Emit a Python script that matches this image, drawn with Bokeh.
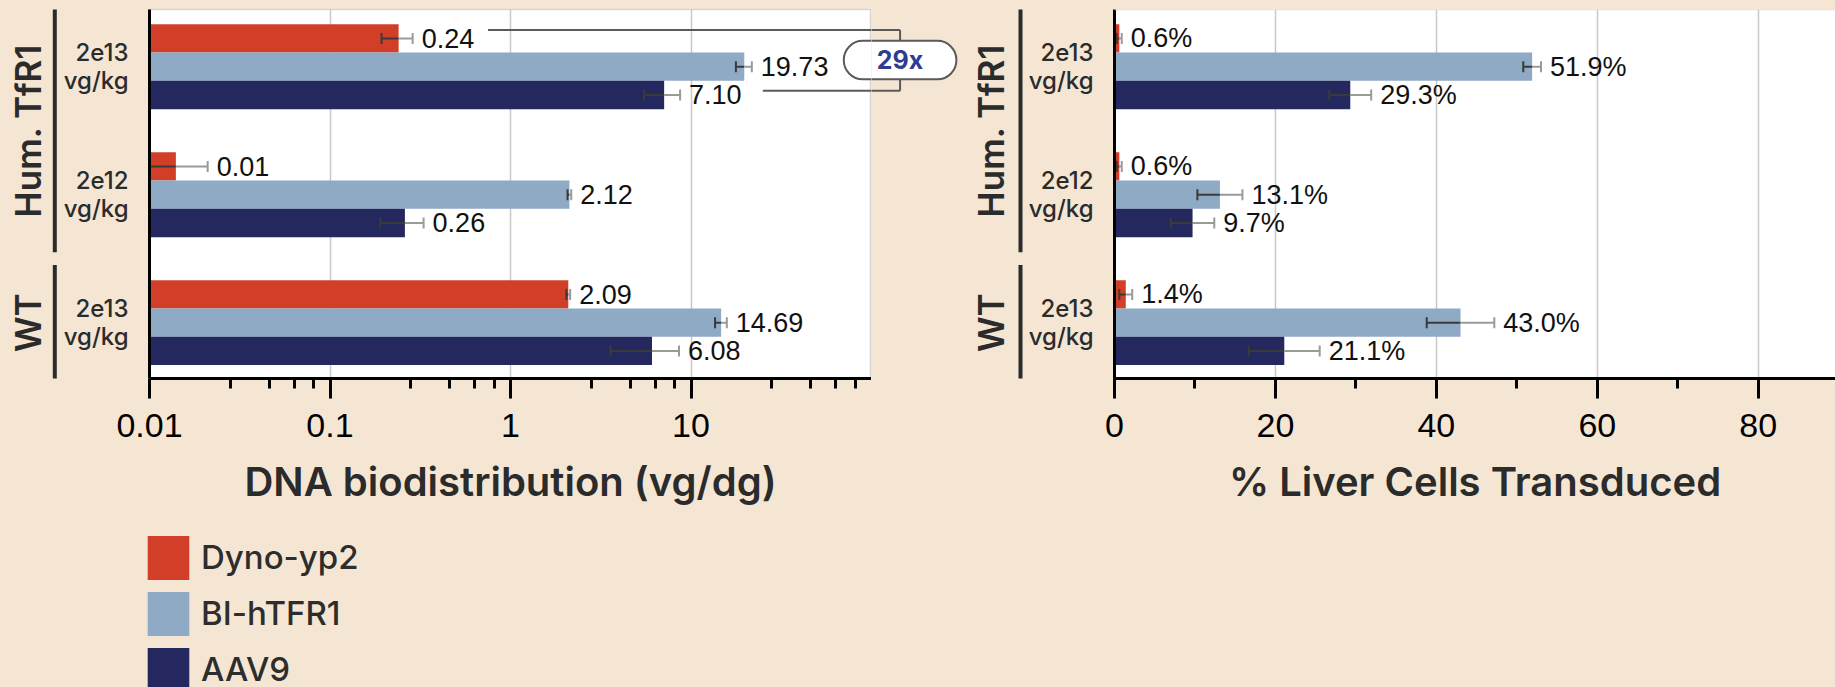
import math
from bokeh.plotting import figure
from bokeh.layouts import row, column
from bokeh.models import (ColumnDataSource, Range1d, FixedTicker, SingleIntervalTicker,
                          Label, BoxAnnotation, Legend, LegendItem, Span)
from bokeh.core.properties import value
from bokeh.embed import file_html
from bokeh.resources import INLINE

# ---------------- data ----------------
row_groups = ["Hum. TfR1", "Hum. TfR1", "WT"]
dose_labels = ["2e13\nvg/kg", "2e12\nvg/kg", "2e13\nvg/kg"]
row_pos = [2, 1, 0]

series_names = ["Dyno-yp2", "BI-hTFR1", "AAV9"]
series_colors = ["#d23f29", "#8eaac5", "#25285e"]

# DNA biodistribution (vg/dg)
dna_dyno = [0.24, 0.014, 2.09]
dna_dyno_err = [0.047, 0.007, 0.05]
dna_bi = [19.73, 2.12, 14.69]
dna_bi_err = [2.0, 0.05, 1.1]
dna_aav9 = [7.10, 0.26, 6.08]
dna_aav9_err = [1.6, 0.07, 2.5]

# % liver cells transduced
liv_dyno = [0.6, 0.6, 1.4]
liv_dyno_err = [0.3, 0.3, 0.8]
liv_bi = [51.9, 13.1, 43.0]
liv_bi_err = [1.1, 2.8, 4.2]
liv_aav9 = [29.3, 9.7, 21.1]
liv_aav9_err = [2.6, 2.7, 4.4]

dna_ticks = [0.01, 0.1, 1, 10]
dna_tick_labels = ["0.01", "0.1", "1", "10"]
minor_mult = [2.8, 4.6, 6.35, 8.15]

# ---------------- styles / layout ----------------
BG = "#f5e6d4"
TXT = "#2b2b2b"
INNER = "#3a3a3a"
OUTER = "#9a9a9a"
SEMI = "Inter SemiBold, Inter"
MED = "Inter Medium, Inter"
BAR_H = 0.221
OFFSETS = [BAR_H, 0.0, -BAR_H]
CAP = 0.043
Y0, Y1 = -0.436, 2.447
TOP_PX, FRAME_H, H1 = 9, 369, 526
BOTTOM_PX = H1 - TOP_PX - FRAME_H
X1_RANGE = (0.01, 100)
X1_FRAME_W = 722
DECADE_PX = X1_FRAME_W / math.log10(X1_RANGE[1] / X1_RANGE[0])
M1_W, M2_W = 60, 154
P1_W, P2_W = 811, 810
LEFT_PAD = 89
LEG_H = 687 - H1


def base_fig(width, height, **kw):
    return figure(width=width, height=height, output_backend="svg", toolbar_location=None,
                  background_fill_color=BG, border_fill_color=BG, outline_line_color=None, **kw)


def make_chart(width, x_range, x_axis_type):
    p = base_fig(width, H1, x_range=x_range, y_range=Range1d(Y0, Y1), x_axis_type=x_axis_type,
                 min_border_left=LEFT_PAD, min_border_right=0, min_border_top=TOP_PX,
                 min_border_bottom=BOTTOM_PX)
    p.background_fill_color = "white"
    ax = p.xaxis[0]
    ax.axis_line_width = 3
    ax.axis_line_color = "black"
    ax.major_tick_out = 20
    ax.major_tick_in = 0
    ax.minor_tick_out = 10
    ax.minor_tick_in = 0
    ax.major_tick_line_width = 3
    ax.minor_tick_line_width = 3
    ax.major_tick_line_color = "black"
    ax.minor_tick_line_color = "black"
    ax.major_label_text_font = "Liberation Sans"
    ax.major_label_text_font_size = "34px"
    ax.major_label_text_color = "black"
    ax.major_label_standoff = 15
    ax.axis_label_text_font = SEMI
    ax.axis_label_text_font_style = "normal"
    ax.axis_label_text_font_size = "40px"
    ax.axis_label_text_color = TXT
    ax.axis_label_standoff = 17
    ya = p.yaxis[0]
    ya.ticker = FixedTicker(ticks=row_pos)
    ya.major_label_overrides = {y: s for y, s in zip(row_pos, dose_labels)}
    ya.axis_line_width = 3
    ya.axis_line_color = "black"
    ya.major_tick_line_color = None
    ya.minor_tick_line_color = None
    ya.major_label_standoff = 15
    ya.major_label_text_font = MED
    ya.major_label_text_font_size = "24px"
    ya.major_label_text_color = TXT
    ya.major_label_text_line_height = 0.95
    p.ygrid.visible = False
    p.xgrid.grid_line_color = "#c8c8c8"
    p.xgrid.grid_line_width = 1.5
    return p


def margin_fig(width, x_range, x_axis_type, label_x, line_x):
    m = base_fig(width, H1, x_range=x_range, x_axis_type=x_axis_type,
                 y_range=Range1d(Y0, Y1), x_axis_location=None, y_axis_location=None,
                 min_border_left=0, min_border_right=0, min_border_top=TOP_PX,
                 min_border_bottom=BOTTOM_PX)
    m.grid.visible = False
    blocks = []
    for name, y in zip(row_groups, row_pos):
        if blocks and blocks[-1][0] == name:
            blocks[-1][1].append(y)
        else:
            blocks.append((name, [y]))
    for name, ys in blocks:
        m.add_layout(Label(x=label_x, y=sum(ys) / len(ys), x_units="screen", y_units="data",
                           text=name, angle=math.pi / 2, text_align="center",
                           text_baseline="middle", text_font=SEMI,
                           text_font_size="35px", text_color=TXT))
        m.add_layout(BoxAnnotation(left=line_x - 2, right=line_x + 2, left_units="screen",
                                   right_units="screen", top=max(ys) + 0.45,
                                   bottom=min(ys) - 0.45, fill_color=TXT, fill_alpha=1,
                                   line_color=None, line_alpha=0))
    return m


def add_series(p, vals, errs, offset, color, left, fmt):
    ys = [g + offset for g in row_pos]
    src = ColumnDataSource(dict(
        y=ys, v=vals,
        lo=[v - e for v, e in zip(vals, errs)],
        hi=[v + e for v, e in zip(vals, errs)],
        ylo=[y - CAP for y in ys], yhi=[y + CAP for y in ys],
        lab=[fmt(v) for v in vals]))
    r = p.hbar(y="y", left=left, right="v", height=BAR_H, fill_color=color,
               line_color=None, source=src)
    p.segment(x0="lo", y0="y", x1="v", y1="y", line_color=INNER, line_width=2, source=src)
    p.segment(x0="v", y0="y", x1="hi", y1="y", line_color=OUTER, line_width=2, source=src)
    p.segment(x0="lo", y0="ylo", x1="lo", y1="yhi", line_color=INNER, line_width=2, source=src)
    p.segment(x0="hi", y0="ylo", x1="hi", y1="yhi", line_color=OUTER, line_width=2, source=src)
    p.text(x="hi", y="y", text="lab", x_offset=9, text_align="left", text_baseline="middle",
           text_font=value("Liberation Sans"), text_font_size="27px", text_color="#111111",
           source=src)
    return r


# fold-change bracket (AAV9 vs Dyno-yp2, Hum. TfR1 2e13), drawn in log-x space
BRACKET_X = 144
BR_TOP_START = 0.75
BR_BOT_START = 25
PILL_HALF = 10 ** (56.3 / DECADE_PX)
top_y = row_pos[0] + OFFSETS[0] + 0.066
bot_y = row_pos[0] + OFFSETS[2] + 0.034
pill_y = row_pos[0] + 0.052
fold = int(dna_aav9[0] / dna_dyno[0])


def draw_bracket(fig, with_text):
    fig.segment(x0=[BR_TOP_START, BR_BOT_START, BRACKET_X], y0=[top_y, bot_y, top_y],
                x1=[BRACKET_X, BRACKET_X, BRACKET_X], y1=[top_y, bot_y, bot_y],
                line_color="#5a5a5a", line_width=2)
    fig.quad(left=[BRACKET_X / PILL_HALF], right=[BRACKET_X * PILL_HALF],
             top=[pill_y + 0.15], bottom=[pill_y - 0.15], fill_color="white",
             line_color="#5a5a5a", line_width=2, border_radius=19)
    if with_text:
        fig.text(x=[BRACKET_X], y=[pill_y], text=[f"{fold}x"], text_align="center",
                 text_baseline="middle", text_font=value("Inter"), text_font_style="bold",
                 text_font_size="25px", text_color="#2e3b96")


# ---------------- left chart ----------------
m1 = margin_fig(M1_W, Range1d(0, M1_W), "linear", 27, 54.3)

p1 = make_chart(P1_W, Range1d(*X1_RANGE), "log")
p1.outline_line_color = "#d5d5d5"
p1.outline_line_width = 1.5
p1.xaxis.axis_label = "DNA biodistribution (vg/dg)"
p1.xaxis.ticker = FixedTicker(ticks=dna_ticks,
                              minor_ticks=[m * d for d in dna_ticks for m in minor_mult])
p1.xaxis.major_label_overrides = {t: s for t, s in zip(dna_ticks, dna_tick_labels)}
dna_sets = [(dna_dyno, dna_dyno_err), (dna_bi, dna_bi_err), (dna_aav9, dna_aav9_err)]
for (vals, errs), off, col in zip(dna_sets, OFFSETS, series_colors):
    add_series(p1, vals, errs, off, col, X1_RANGE[0], lambda v: f"{v:.2f}")
draw_bracket(p1, False)

# gap between charts: continues the left chart's log scale (bracket + right group labels)
m2_end = X1_RANGE[1] * 10 ** (M2_W / DECADE_PX)
m2 = margin_fig(M2_W, Range1d(X1_RANGE[1], m2_end), "log", 119, 149)
draw_bracket(m2, True)

# ---------------- right chart ----------------
p2 = make_chart(P2_W, Range1d(0, 89.6), "linear")
p2.xaxis.axis_label = "% Liver Cells Transduced"
p2.xaxis.ticker = SingleIntervalTicker(interval=20, num_minor_ticks=2)
p2.add_layout(Span(location=Y1, dimension="width", line_color="#d5d5d5", line_width=1.5))
liv_sets = [(liv_dyno, liv_dyno_err), (liv_bi, liv_bi_err), (liv_aav9, liv_aav9_err)]
for (vals, errs), off, col in zip(liv_sets, OFFSETS, series_colors):
    add_series(p2, vals, errs, off, col, 0, lambda v: f"{v:.1f}%")

# ---------------- legend ----------------
lf = base_fig(M1_W + P1_W + M2_W + P2_W, LEG_H, x_range=Range1d(0, 1), y_range=Range1d(0, 1),
              x_axis_location=None, y_axis_location=None, min_border=0)
lf.grid.visible = False
# legend proxies: one off-screen bar each, so the legend swatches are drawn
proxies = [lf.hbar(y=[5], right=[5], left=[4], height=0.1, fill_color=c, line_color=None)
           for c in series_colors]
legend = Legend(items=[LegendItem(label=n, renderers=[r]) for n, r in zip(series_names, proxies)],
                location=(142, -9.8), orientation="vertical", glyph_width=52, glyph_height=55,
                spacing=1, padding=0, margin=0, label_standoff=7, label_text_font=MED,
                label_text_font_size="33px", label_text_color="#2d2d2d",
                background_fill_alpha=0, border_line_color=None)
lf.add_layout(legend)

layout = column(row(m1, p1, m2, p2, spacing=0), lf, spacing=0)
html = file_html(layout, INLINE, title="Biodistribution")
html = html.replace("</head>", "<style>html,body{background:%s;}</style></head>" % BG, 1)
open("out.html", "w").write(html)
